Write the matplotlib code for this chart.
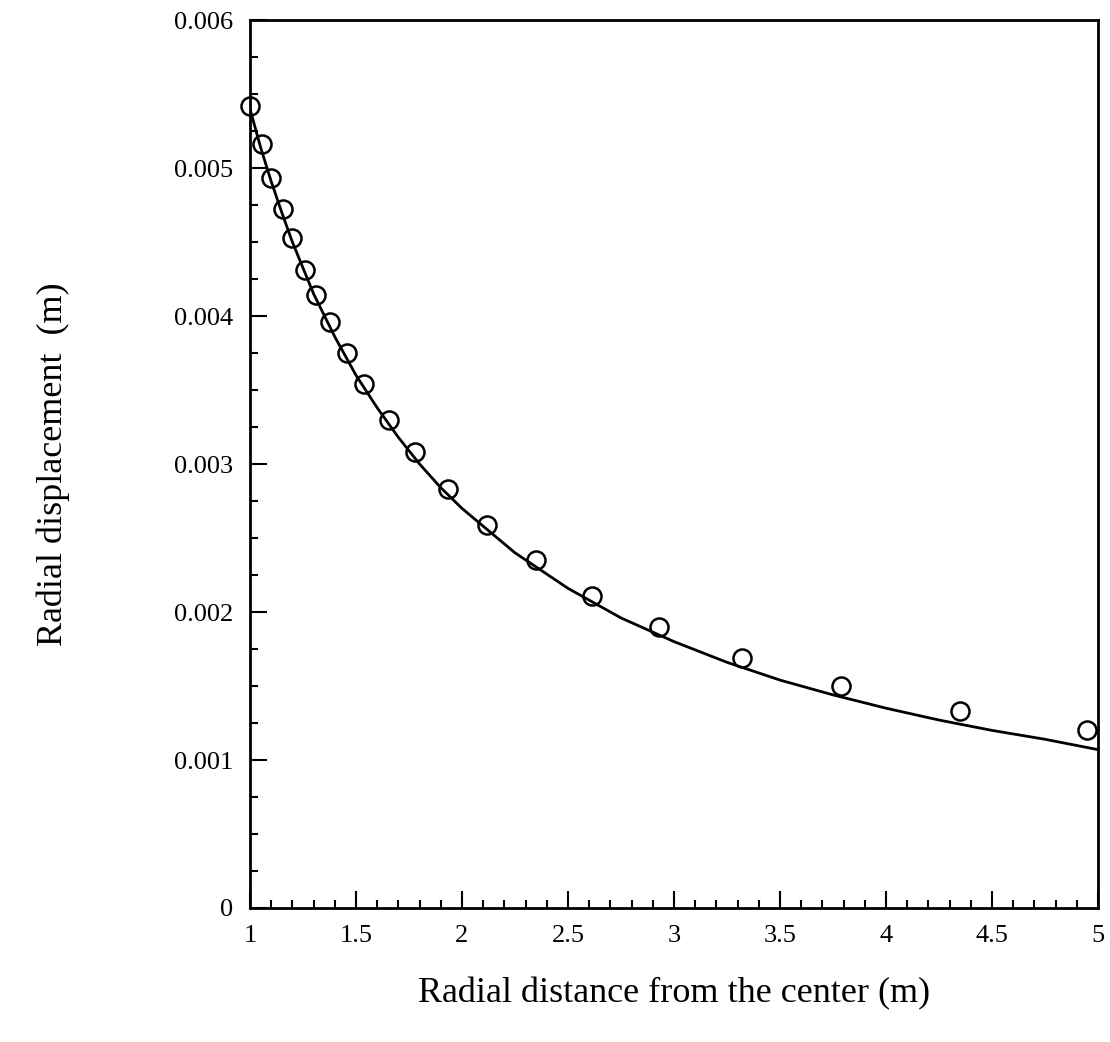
import numpy as np
import matplotlib
matplotlib.use('Agg')
import matplotlib.pyplot as plt
from matplotlib.ticker import MultipleLocator

plt.rcParams['font.family'] = ['Liberation Serif', 'DejaVu Serif']

# 测点数据 (径向距离, 径向位移)
r_pts = [1.00, 1.057, 1.10, 1.156, 1.198, 1.26, 1.31, 1.377, 1.458, 1.54, 1.656,
         1.778, 1.934, 2.118, 2.349, 2.613, 2.929, 3.32, 3.788, 4.35, 4.95]
u_pts = [0.00542, 0.00516, 0.00493, 0.00472, 0.00453, 0.00431, 0.00414, 0.00396,
         0.00375, 0.00354, 0.00330, 0.00308, 0.00283, 0.00259, 0.00235, 0.00211,
         0.00190, 0.00169, 0.00150, 0.00133, 0.00120]

# 理论曲线
r_line = [1.0, 1.05, 1.1, 1.15, 1.2, 1.3, 1.4, 1.5, 1.6, 1.7, 1.8, 1.9, 2.0,
          2.25, 2.5, 2.75, 3.0, 3.25, 3.5, 3.75, 4.0, 4.25, 4.5, 4.75, 5.0]
u_line = [0.0054, 0.00514, 0.00491, 0.0047, 0.0045, 0.00415, 0.00386, 0.0036,
          0.00338, 0.00318, 0.0030, 0.00284, 0.0027, 0.0024, 0.00216, 0.00196,
          0.0018, 0.00166, 0.00154, 0.00144, 0.00135, 0.00127, 0.0012, 0.00114,
          0.00107]

fig = plt.figure(figsize=(11.1, 10.42), dpi=100)
ax = fig.add_axes([0.2252, 0.1286, 0.7640, 0.8522])

ax.plot(r_line, u_line, color='black', lw=2)
ax.plot(r_pts, u_pts, 'o', mfc='none', mec='black', ms=13, mew=1.8, clip_on=False)

ax.set_xlim(1, 5)
ax.set_ylim(0, 0.006)
ax.xaxis.set_minor_locator(MultipleLocator(0.1))
ax.yaxis.set_minor_locator(MultipleLocator(0.00025))
ax.set_xticks([1, 1.5, 2, 2.5, 3, 3.5, 4, 4.5, 5])
ax.set_xticklabels(['1', '1.5', '2', '2.5', '3', '3.5', '4', '4.5', '5'])
ax.set_yticks([0, 0.001, 0.002, 0.003, 0.004, 0.005, 0.006])
ax.set_yticklabels(['0', '0.001', '0.002', '0.003', '0.004', '0.005', '0.006'])

ax.tick_params(which='both', direction='in', top=False, right=False, width=1.5,
               labelsize=19)
ax.tick_params(which='major', length=12)
ax.tick_params(which='minor', length=6)
ax.tick_params(axis='x', pad=12)
ax.tick_params(axis='y', pad=12)
for s in ax.spines.values():
    s.set_linewidth(2)

ax.set_xlabel('Radial distance from the center (m)', fontsize=26, labelpad=22)
ax.set_ylabel('Radial displacement  (m)', fontsize=26, labelpad=75)

fig.savefig('out.png', dpi=100)
